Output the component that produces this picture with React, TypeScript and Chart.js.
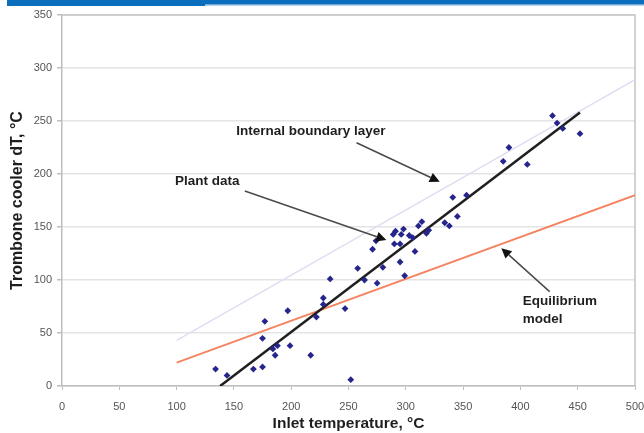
import React, { useEffect, useRef } from "react";
import { Chart, registerables } from "chart.js";

Chart.register(...registerables);

// Plant measurements: inlet temperature (°C) vs. trombone cooler dT (°C)
const inletTemp = [
  134, 144, 167, 175, 177, 175, 184, 188, 186, 197,
  199, 217, 234, 228, 228, 222, 247, 258, 252, 264,
  275, 280, 271, 274, 289, 291, 298, 296, 303, 306,
  290, 295, 295, 299, 308, 311, 314, 318, 320, 334,
  338, 345, 341, 353, 385, 390, 406, 428, 432, 437,
  452,
];
const coolerDT = [
  16, 10, 16, 18, 61, 45, 35, 38, 29, 71,
  38, 29, 101, 83, 77, 65, 73, 111, 6, 100,
  97, 112, 129, 137, 143, 146, 148, 143, 142, 140,
  134, 134, 117, 104, 127, 151, 155, 144, 147, 154,
  151, 160, 178, 180, 212, 225, 209, 255, 248, 243,
  238,
];

// Straight-line fit through the plant data
const fitX = [138, 452];
const fitY = [0, 258];
// Internal boundary layer model
const iblX = [100, 500];
const iblY = [43, 289];
// Equilibrium model
const eqX = [100, 500];
const eqY = [22, 180];

const xTicks = [0, 50, 100, 150, 200, 250, 300, 350, 400, 450, 500];
const yTicks = [0, 50, 100, 150, 200, 250, 300, 350];

const xTitle = "Inlet temperature, °C";
const yTitle = "Trombone cooler dT, °C";

const pairs = (xs: number[], ys: number[]) => xs.map((x, i) => ({ x, y: ys[i] }));

const FONT = "'Liberation Sans', Arial, sans-serif";

// Callouts, anchored in data units
const callouts = [
  { lines: ["Internal boundary layer"], at: [152, 240], from: [257, 229.5], to: [329.6, 192.7] },
  { lines: ["Plant data"], at: [98.5, 192.7], from: [159.5, 184], to: [283, 137.7] },
  { lines: ["Equilibrium", "model"], at: [402, 79.5], from: [425.5, 89], to: [383.4, 130] },
];

function arrow(ctx: CanvasRenderingContext2D, x1: number, y1: number, x2: number, y2: number) {
  const ang = Math.atan2(y2 - y1, x2 - x1);
  const len = 10;
  const half = 5;
  const bx = x2 - len * Math.cos(ang);
  const by = y2 - len * Math.sin(ang);
  ctx.strokeStyle = "#4a4a4a";
  ctx.lineWidth = 1.5;
  ctx.beginPath();
  ctx.moveTo(x1, y1);
  ctx.lineTo(bx, by);
  ctx.stroke();
  ctx.fillStyle = "#111";
  ctx.beginPath();
  ctx.moveTo(x2, y2);
  ctx.lineTo(bx + half * Math.sin(ang), by - half * Math.cos(ang));
  ctx.lineTo(bx - half * Math.sin(ang), by + half * Math.cos(ang));
  ctx.closePath();
  ctx.fill();
}

const overlay = {
  id: "overlay",
  beforeDraw(chart: any) {
    const ctx = chart.ctx as CanvasRenderingContext2D;
    ctx.save();
    ctx.fillStyle = "#ffffff";
    ctx.fillRect(0, 0, chart.width, chart.height);
    // header band
    ctx.fillStyle = "#0b6fbd";
    ctx.fillRect(7, 0, chart.width - 7, 4);
    ctx.fillRect(7, 0, 198, 6);
    ctx.fillStyle = "#6fa9da";
    ctx.fillRect(205, 4, chart.width - 205, 1.5);
    ctx.restore();
  },
  beforeDatasetsDraw(chart: any) {
    const ctx = chart.ctx as CanvasRenderingContext2D;
    const a = chart.chartArea;
    ctx.save();
    ctx.strokeStyle = "#c4c4c4";
    ctx.lineWidth = 1.5;
    ctx.beginPath();
    ctx.moveTo(a.left, a.top);
    ctx.lineTo(a.right, a.top);
    ctx.lineTo(a.right, a.bottom);
    ctx.stroke();
    ctx.restore();
  },
  afterDraw(chart: any) {
    const ctx = chart.ctx as CanvasRenderingContext2D;
    const a = chart.chartArea;
    const xs = chart.scales.x;
    const ys = chart.scales.y;
    ctx.save();
    ctx.fillStyle = "#1e1e1e";
    ctx.font = `bold 15.5px ${FONT}`;
    ctx.textAlign = "center";
    ctx.textBaseline = "middle";
    ctx.fillText(xTitle, (a.left + a.right) / 2, 424);
    ctx.save();
    ctx.font = `bold 16px ${FONT}`;
    ctx.translate(18, (a.top + a.bottom) / 2);
    ctx.rotate(-Math.PI / 2);
    ctx.fillText(yTitle, 0, 0);
    ctx.restore();

    ctx.font = `bold 13.5px ${FONT}`;
    ctx.textAlign = "left";
    for (const c of callouts) {
      const tx = xs.getPixelForValue(c.at[0]);
      const ty = ys.getPixelForValue(c.at[1]);
      ctx.fillStyle = "#1e1e1e";
      c.lines.forEach((l, i) => ctx.fillText(l, tx, ty + i * 17.5));
      arrow(
        ctx,
        xs.getPixelForValue(c.from[0]),
        ys.getPixelForValue(c.from[1]),
        xs.getPixelForValue(c.to[0]),
        ys.getPixelForValue(c.to[1])
      );
    }
    ctx.restore();
  },
};

export default function App() {
  const ref = useRef<HTMLCanvasElement | null>(null);

  useEffect(() => {
    if (!ref.current) return;
    const chart = new Chart(ref.current, {
      type: "scatter",
      data: {
        datasets: [
          {
            label: "Plant data",
            data: pairs(inletTemp, coolerDT),
            pointStyle: "rectRot",
            pointRadius: 3.4,
            backgroundColor: "#25258c",
            borderColor: "#25258c",
            borderWidth: 0,
            order: 0,
          },
          {
            label: "Fit",
            data: pairs(fitX, fitY),
            showLine: true,
            pointRadius: 0,
            borderColor: "#1f1f1f",
            borderWidth: 2.5,
            order: 1,
          },
          {
            label: "Internal boundary layer",
            data: pairs(iblX, iblY),
            showLine: true,
            pointRadius: 0,
            borderColor: "#dedef2",
            borderWidth: 1.5,
            order: 3,
          },
          {
            label: "Equilibrium model",
            data: pairs(eqX, eqY),
            showLine: true,
            pointRadius: 0,
            borderColor: "#f58462",
            borderWidth: 2,
            order: 2,
          },
        ],
      },
      options: {
        responsive: false,
        animation: false,
        layout: { padding: { left: 0, right: 9, top: 15, bottom: 0 } },
        plugins: { legend: { display: false }, tooltip: { enabled: false } },
        scales: {
          x: {
            type: "linear",
            min: 0,
            max: 500,
            afterFit: (s: any) => {
              s.height = 47;
              s.paddingLeft = 0;
              s.paddingRight = 0;
            },
            afterBuildTicks: (s: any) => {
              s.ticks = xTicks.map((v) => ({ value: v }));
            },
            grid: {
              drawOnChartArea: false,
              drawTicks: true,
              tickLength: 4,
              tickColor: "#bdbdbd",
            },
            border: { color: "#bdbdbd", width: 1.5 },
            ticks: {
              padding: 10,
              color: "#555",
              font: { family: FONT, size: 11 },
              maxRotation: 0,
            },
          },
          y: {
            type: "linear",
            min: 0,
            max: 350,
            afterFit: (s: any) => {
              s.width = 62;
              s.paddingTop = 0;
              s.paddingBottom = 0;
            },
            afterBuildTicks: (s: any) => {
              s.ticks = yTicks.map((v) => ({ value: v }));
            },
            grid: {
              color: "#e4e4e4",
              lineWidth: 1.5,
              tickLength: 5,
              tickColor: "#bdbdbd",
            },
            border: { color: "#bdbdbd", width: 1.5 },
            ticks: {
              padding: 5,
              color: "#555",
              font: { family: FONT, size: 11 },
            },
          },
        },
      },
      plugins: [overlay],
    });
    return () => chart.destroy();
  }, []);

  return (
    <div style={{ position: "fixed", left: 0, top: 0, width: 644, height: 433 }}>
      <canvas ref={ref} width={644} height={433} style={{ display: "block" }} />
    </div>
  );
}
